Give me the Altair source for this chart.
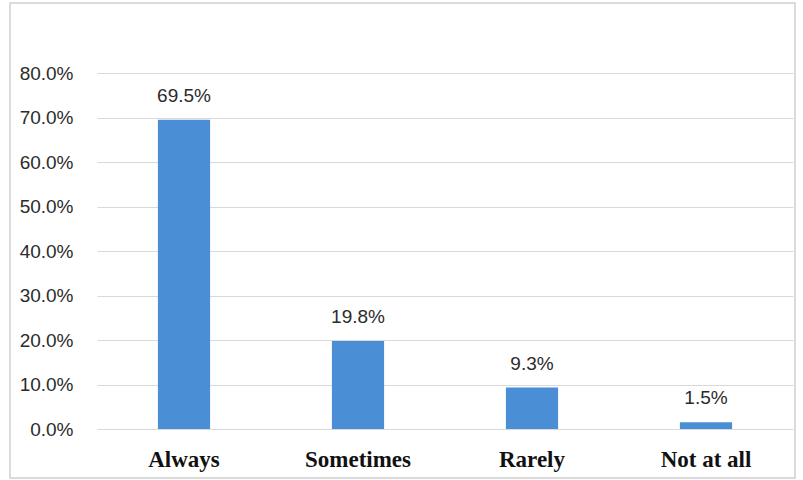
import altair as alt
import pandas as pd

# Survey responses and their shares
categories = ["Always", "Sometimes", "Rarely", "Not at all"]
shares = [0.695, 0.198, 0.093, 0.015]
y_ticks = [0.0, 0.1, 0.2, 0.3, 0.4, 0.5, 0.6, 0.7, 0.8]

df = pd.DataFrame({"category": categories, "share": shares})

BAR_COLOR = "#4A8ED6"

x_enc = alt.X(
    "category:N",
    sort=categories,
    title=None,
    scale=alt.Scale(paddingInner=0.7, paddingOuter=0.35),
    axis=alt.Axis(
        labelAngle=0,
        labelFont="Liberation Serif",
        labelFontWeight="bold",
        labelFontSize=23,
        labelColor="#111111",
        labelPadding=19,
        ticks=False,
        domain=False,
        grid=False,
    ),
)
y_enc = alt.Y(
    "share:Q",
    title=None,
    scale=alt.Scale(domain=[0, 0.8], nice=False),
    axis=alt.Axis(
        values=y_ticks,
        format=".1%",
        labelFont="Liberation Sans",
        labelFontSize=19,
        labelColor="#2b2b2b",
        labelPadding=24,
        ticks=False,
        domain=False,
        grid=True,
        gridColor="#d9d9d9",
        gridWidth=1.2,
    ),
)

bars = alt.Chart(df).mark_bar(color=BAR_COLOR).encode(x=x_enc, y=y_enc)

labels = alt.Chart(df).mark_text(
    baseline="bottom",
    dy=-14,
    font="Liberation Sans",
    fontSize=19,
    color="#2b2b2b",
).encode(
    x=alt.X("category:N", sort=categories),
    y="share:Q",
    text=alt.Text("share:Q", format=".1%"),
)

# Thin outer frame around the whole figure
frame = alt.Chart(df.head(1)).mark_rect(
    fill=None, stroke="#d0d0d0", strokeWidth=1.5, clip=False
).encode(
    x=alt.value(-87), x2=alt.value(698), y=alt.value(-70), y2=alt.value(405)
)

chart = (
    alt.layer(frame, bars, labels)
    .properties(
        width=696,
        height=356,
        autosize=alt.AutoSizeParams(type="none"),
        padding={"left": 97, "top": 73, "right": 10, "bottom": 51},
        background="white",
    )
    .configure_view(stroke=None)
)

chart.save("out.html", embed_options={"renderer": "svg", "actions": False})
